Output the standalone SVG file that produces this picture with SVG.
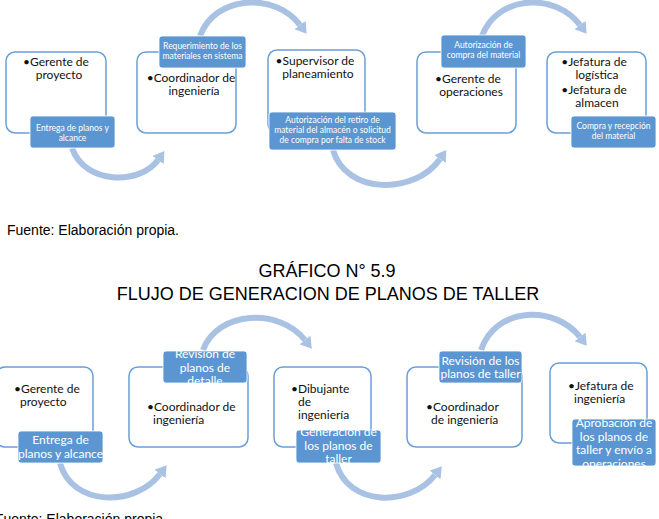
<svg xmlns="http://www.w3.org/2000/svg" width="659" height="519" viewBox="0 0 659 519">
<style>
.box{fill:#fff;stroke:#6a9fd6;stroke-width:1.5}
.lab{fill:#5b96d2;stroke:#fff;stroke-width:0.8}
.arc{fill:none;stroke:#a9c2e4;stroke-width:6}
.t{font-family:Lato,"Open Sans",sans-serif;fill:#111}
.t1{font-size:12px}
.ls{font-family:Lato,"Open Sans",sans-serif;fill:#fff;font-size:8.5px}
.lb{font-family:Lato,"Open Sans",sans-serif;fill:#fff;font-size:12px}
.cap{font-family:"Liberation Sans",Arial,sans-serif;fill:#000}
</style>
<defs>
<marker id="ah" viewBox="0 0 11 14" refX="0" refY="7" markerWidth="11" markerHeight="14" markerUnits="userSpaceOnUse" orient="auto">
<path d="M0,0 L11,7 L0,14 z" fill="#a9c2e4"/>
</marker>
<clipPath id="c2"><rect x="163" y="351" width="84" height="32"/></clipPath>
<clipPath id="c3"><rect x="296" y="430" width="85" height="33"/></clipPath>
<clipPath id="c5"><rect x="572" y="419" width="84" height="47"/></clipPath>
</defs>

<g id="connectors">
<path class="arc" marker-end="url(#ah)" d="M200,36 C215,-5 275,-8 300,25"/>
<path class="arc" marker-end="url(#ah)" d="M482,36 C497,-5 555,-8 580,25"/>
<path class="arc" marker-end="url(#ah)" d="M72,148 C85,185 140,185 158,160"/>
<path class="arc" marker-end="url(#ah)" d="M333,150 C346,195 415,195 440,159"/>
<path class="arc" marker-end="url(#ah)" d="M203,350 C218,310 280,308 305,340"/>
<path class="arc" marker-end="url(#ah)" d="M481,350 C496,306 555,305 580,337"/>
<path class="arc" marker-end="url(#ah)" d="M60,463 C72,507 135,507 160,474"/>
<path class="arc" marker-end="url(#ah)" d="M336,463 C348,507 410,507 435,475"/>
</g>

<!-- Top diagram -->
<g id="n1">
<rect class="box" x="6" y="52" width="100" height="81" rx="9"/>
<text class="t t1" text-anchor="middle" x="56" y="66">•Gerente de</text>
<text class="t t1" text-anchor="middle" x="59" y="79">proyecto</text>
</g>
<g id="l1">
<rect class="lab" x="30" y="116" width="85" height="32" rx="3"/>
<text class="ls" text-anchor="middle" x="72.5" y="131">Entrega de planos y</text>
<text class="ls" text-anchor="middle" x="72.5" y="141">alcance</text>
</g>
<g id="n2">
<rect class="box" x="137" y="52" width="99" height="81" rx="9"/>
<text class="t t1" text-anchor="middle" x="191" y="82">•Coordinador de</text>
<text class="t t1" text-anchor="middle" x="194" y="95">ingeniería</text>
</g>
<g id="l2">
<rect class="lab" x="159" y="36" width="87" height="32" rx="3"/>
<text class="ls" text-anchor="middle" x="202.5" y="49">Requerimiento de los</text>
<text class="ls" text-anchor="middle" x="202.5" y="59">materiales en sistema</text>
</g>
<g id="n3">
<rect class="box" x="268" y="50" width="97" height="83" rx="9"/>
<text class="t t1" text-anchor="middle" x="315" y="65">•Supervisor de</text>
<text class="t t1" text-anchor="middle" x="318" y="78">planeamiento</text>
</g>
<g id="l3">
<rect class="lab" x="269" y="112" width="127" height="38" rx="3"/>
<text class="ls" text-anchor="middle" x="332.5" y="123">Autorización del retiro de</text>
<text class="ls" text-anchor="middle" x="332.5" y="133">material del almacén o solicitud</text>
<text class="ls" text-anchor="middle" x="332.5" y="143">de compra por falta de stock</text>
</g>
<g id="n4">
<rect class="box" x="417" y="52" width="99" height="81" rx="9"/>
<text class="t t1" text-anchor="middle" x="468" y="83">•Gerente de</text>
<text class="t t1" text-anchor="middle" x="471" y="96">operaciones</text>
</g>
<g id="l4">
<rect class="lab" x="441" y="35" width="85" height="33" rx="3"/>
<text class="ls" text-anchor="middle" x="483.5" y="48">Autorización de</text>
<text class="ls" text-anchor="middle" x="483.5" y="58">compra del material</text>
</g>
<g id="n5">
<rect class="box" x="547" y="52" width="99" height="81" rx="9"/>
<text class="t t1" text-anchor="middle" x="594" y="66">•Jefatura de</text>
<text class="t t1" text-anchor="middle" x="597" y="79">logística</text>
<text class="t t1" text-anchor="middle" x="594" y="94">•Jefatura de</text>
<text class="t t1" text-anchor="middle" x="597" y="107">almacen</text>
</g>
<g id="l5">
<rect class="lab" x="571" y="116" width="85" height="32" rx="3"/>
<text class="ls" text-anchor="middle" x="613.5" y="129">Compra y recepción</text>
<text class="ls" text-anchor="middle" x="613.5" y="139">del material</text>
</g>

<text class="cap" x="7" y="235" font-size="14">Fuente: Elaboración propia.</text>
<text class="cap" x="327" y="277" font-size="18" text-anchor="middle">GRÁFICO N° 5.9</text>
<text class="cap" x="328" y="300" font-size="18" text-anchor="middle">FLUJO DE GENERACION DE PLANOS DE TALLER</text>

<!-- Bottom diagram -->
<g id="m1">
<rect class="box" x="-4" y="367" width="97" height="80" rx="9"/>
<text class="t t1" x="14" y="393">•Gerente de</text>
<text class="t t1" x="20" y="406">proyecto</text>
</g>
<g id="k1">
<rect class="lab" x="18" y="431" width="85" height="32" rx="3"/>
<text class="lb" text-anchor="middle" x="60.5" y="444">Entrega de</text>
<text class="lb" text-anchor="middle" x="60.5" y="458">planos y alcance</text>
</g>
<g id="m2">
<rect class="box" x="129" y="367" width="119" height="80" rx="9"/>
<text class="t t1" x="147" y="411">•Coordinador de</text>
<text class="t t1" x="153" y="424">ingeniería</text>
</g>
<g id="k2">
<rect class="lab" x="163" y="351" width="84" height="32" rx="3"/>
<g clip-path="url(#c2)">
<text class="lb" text-anchor="middle" x="205" y="358">Revisión de</text>
<text class="lb" text-anchor="middle" x="205" y="371.5">planos de</text>
<text class="lb" text-anchor="middle" x="205" y="385">detalle</text>
</g>
</g>
<g id="m3">
<rect class="box" x="274" y="367" width="97" height="80" rx="9"/>
<text class="t t1" x="291" y="393">•Dibujante</text>
<text class="t t1" x="298" y="406">de</text>
<text class="t t1" x="298" y="419">ingeniería</text>
</g>
<g id="k3">
<rect class="lab" x="296" y="430" width="85" height="33" rx="3"/>
<g clip-path="url(#c3)">
<text class="lb" text-anchor="middle" x="338.5" y="436">Generación de</text>
<text class="lb" text-anchor="middle" x="338.5" y="449.5">los planos de</text>
<text class="lb" text-anchor="middle" x="338.5" y="463">taller</text>
</g>
</g>
<g id="m4">
<rect class="box" x="407" y="367" width="115" height="80" rx="9"/>
<text class="t t1" x="426" y="411">•Coordinador</text>
<text class="t t1" x="431" y="424">de ingeniería</text>
</g>
<g id="k4">
<rect class="lab" x="439" y="351" width="83" height="32" rx="3"/>
<text class="lb" text-anchor="middle" x="480.5" y="365">Revisión de los</text>
<text class="lb" text-anchor="middle" x="480.5" y="378">planos de taller</text>
</g>
<g id="m5">
<rect class="box" x="550" y="363" width="97" height="80" rx="9"/>
<text class="t t1" x="568" y="390">•Jefatura de</text>
<text class="t t1" x="574" y="403">ingeniería</text>
</g>
<g id="k5">
<rect class="lab" x="572" y="419" width="84" height="47" rx="3"/>
<g clip-path="url(#c5)">
<text class="lb" text-anchor="middle" x="614" y="427">Aprobación de</text>
<text class="lb" text-anchor="middle" x="614" y="440.5">los planos de</text>
<text class="lb" text-anchor="middle" x="614" y="454">taller y envío a</text>
<text class="lb" text-anchor="middle" x="614" y="467.5">operaciones</text>
</g>
</g>

<text class="cap" x="-5" y="524" font-size="14">Fuente: Elaboración propia</text>
</svg>
